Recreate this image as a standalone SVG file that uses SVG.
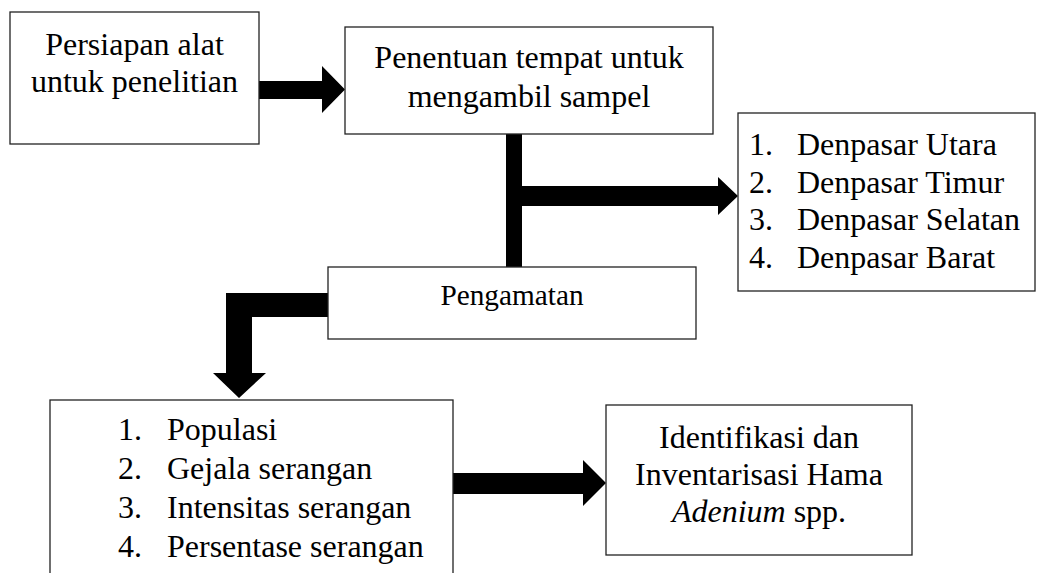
<svg xmlns="http://www.w3.org/2000/svg" width="1037" height="573" viewBox="0 0 1037 573">
<style>
.box{fill:#fff;stroke:#222;stroke-width:1.3}
.t{font-family:"Liberation Serif","Times New Roman",serif;font-size:32px;fill:#000}
.s{font-size:29.3px}
.c{text-anchor:middle}
.arr{fill:#000;stroke:none}
</style>
<rect width="1037" height="573" fill="#fff"/>
<g id="connectors">
<path class="arr" d="M259,81 H322 V66 L345,89.5 L322,113 V99 H259 Z"/>
<path class="arr" d="M506,134 H522 V186 H718 V177 L738,196 L718,215 V206 H522 V267 H506 Z"/>
<path class="arr" d="M328,293 V317 H252 V373 H266 L239,398 L213,373 H226 V293 Z"/>
<path class="arr" d="M453,473 H583 V460 L606,483 L583,506 V494 H453 Z"/>
</g>
<g id="persiapan">
<rect class="box" x="10" y="12" width="249" height="132"/>
<text class="t c" x="134.5" y="55">Persiapan alat</text>
<text class="t c" x="134.5" y="92">untuk penelitian</text>
</g>
<g id="penentuan">
<rect class="box" x="345" y="27" width="368" height="107"/>
<text class="t c" x="529" y="68">Penentuan tempat untuk</text>
<text class="t c" x="529" y="107">mengambil sampel</text>
</g>
<g id="lokasi">
<rect class="box" x="738" y="113" width="297" height="178"/>
<text class="t" x="749" y="155">1.</text><text class="t" x="797" y="155">Denpasar Utara</text>
<text class="t" x="749" y="193">2.</text><text class="t" x="797" y="193">Denpasar Timur</text>
<text class="t" x="749" y="230">3.</text><text class="t" x="797" y="230">Denpasar Selatan</text>
<text class="t" x="749" y="268">4.</text><text class="t" x="797" y="268">Denpasar Barat</text>
</g>
<g id="pengamatan">
<rect class="box" x="328" y="267" width="368" height="72"/>
<text class="t s c" x="512" y="305">Pengamatan</text>
</g>
<g id="parameter">
<rect class="box" x="50" y="400" width="403" height="200"/>
<text class="t" x="118" y="440">1.</text><text class="t" x="167" y="440">Populasi</text>
<text class="t" x="118" y="479">2.</text><text class="t" x="167" y="479">Gejala serangan</text>
<text class="t" x="118" y="518">3.</text><text class="t" x="167" y="518">Intensitas serangan</text>
<text class="t" x="118" y="557">4.</text><text class="t" x="167" y="557">Persentase serangan</text>
</g>
<g id="identifikasi">
<rect class="box" x="606" y="405" width="306" height="150"/>
<text class="t c" x="759" y="448">Identifikasi dan</text>
<text class="t c" x="759" y="485">Inventarisasi Hama</text>
<text class="t c" x="759" y="522"><tspan font-style="italic">Adenium</tspan> spp.</text>
</g>
</svg>
